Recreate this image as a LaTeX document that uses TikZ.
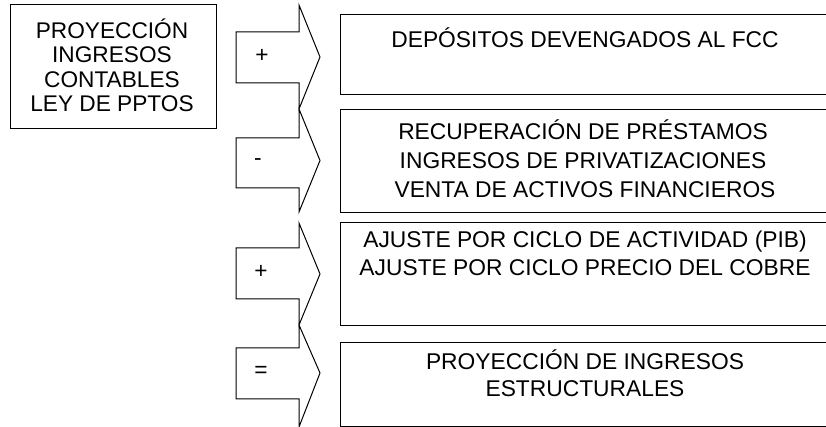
\documentclass[tikz,border=0pt]{standalone}
\usepackage{fontspec}
\setmainfont{Liberation Sans}
\begin{document}
\begin{tikzpicture}[x=0.75pt,y=-0.75pt, line width=0.75pt,
  box/.style={draw=black},
  arrowshape/.style={draw=black, line join=miter},
  rtxt/.style={font=\fontsize{17.1}{20}\selectfont, anchor=base, inner sep=0},
  ltxt/.style={font=\fontsize{17}{20}\selectfont, anchor=base, inner sep=0},
  sym/.style={font=\fontsize{17}{20}\selectfont, inner sep=0}]
\useasboundingbox (0,0) rectangle (826,427);
% left box
\draw[box] (10,5) rectangle (216,129);
\node[ltxt] (l1) at (112,38.3) {PROYECCIÓN};
\node[ltxt] (l2) at (112,62.8) {INGRESOS};
\node[ltxt] (l3) at (112,87.3) {CONTABLES};
\node[ltxt] (l4) at (112,111.7) {LEY DE PPTOS};
% arrows
\draw[arrowshape] (236,32) -- (299,32) -- (299,5) -- (320,57) -- (299,109) -- (299,83) -- (236,83) -- cycle;
\node[sym] (s1) at (262,56) {+};
\draw[arrowshape] (236,138) -- (299,138) -- (299,109) -- (320,160.5) -- (299,212) -- (299,188) -- (236,188) -- cycle;
\node[sym] (s2) at (258,162) {-};
\draw[arrowshape] (236,248) -- (299,248) -- (299,223) -- (320,274) -- (299,325) -- (299,299) -- (236,299) -- cycle;
\node[sym] (s3) at (261,272) {+};
\draw[arrowshape] (236,348) -- (299,348) -- (299,325) -- (320,373) -- (299,427) -- (299,399) -- (236,399) -- cycle;
\node[sym] (s4) at (261,372) {=};
% right boxes
\draw[box] (340,15) rectangle (830,95);
\node[rtxt] (r1) at (585,47.3) {DEPÓSITOS DEVENGADOS AL FCC};
\draw[box] (340,110) rectangle (830,213);
\node[rtxt] (r2a) at (583,140) {RECUPERACIÓN DE PRÉSTAMOS};
\node[rtxt] (r2b) at (583,168.5) {INGRESOS DE PRIVATIZACIONES};
\node[rtxt] (r2c) at (585,198) {VENTA DE ACTIVOS FINANCIEROS};
\draw[box] (340,223) rectangle (830,326);
\node[rtxt] (r3a) at (585,247.7) {AJUSTE POR CICLO DE ACTIVIDAD (PIB)};
\node[rtxt] (r3b) at (585,276) {AJUSTE POR CICLO PRECIO DEL COBRE};
\draw[box] (340,343) rectangle (830,426.5);
\node[rtxt] (r4a) at (585,370) {PROYECCIÓN DE INGRESOS};
\node[rtxt] (r4b) at (585,396.7) {ESTRUCTURALES};
\end{tikzpicture}
\end{document}
